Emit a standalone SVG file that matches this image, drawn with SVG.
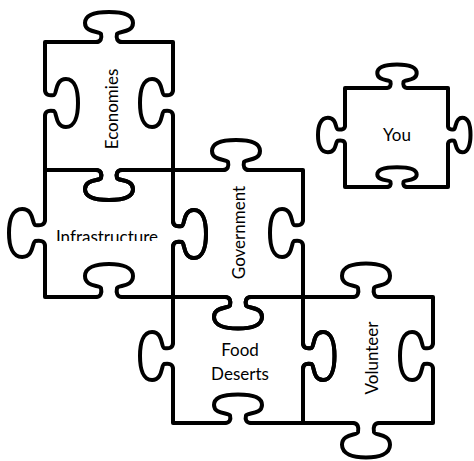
<svg xmlns="http://www.w3.org/2000/svg" xmlns:xlink="http://www.w3.org/1999/xlink" width="474" height="461" viewBox="0 0 474 461">
<style>
.edge{fill:none;stroke:#000;stroke-width:4;stroke-linecap:round;stroke-linejoin:round}
.tabp{fill:none;stroke:#000;stroke-width:4;stroke-linecap:round;stroke-linejoin:round;vector-effect:non-scaling-stroke}
.lbl{font-family:Lato,"Liberation Sans",sans-serif;font-size:17px;fill:#000;text-anchor:middle}
</style>
<defs>
<path id="tab" class="tabp" d="M-13,0 C-8,0 -7,-4 -8,-8 C-9,-11 -24,-9 -24,-19 C-24,-27 -13,-30 0,-30 C13,-30 24,-27 24,-19 C24,-9 9,-11 8,-8 C7,-4 8,0 13,0"/>
<clipPath id="clipInfra"><rect x="0" y="0" width="474" height="241"/></clipPath>
</defs>
<rect width="474" height="461" fill="#fff"/>
<g id="economies">
<path class="edge" d="M45,90 V42 H96 M122,42 H173 V90 M173,116 V170 H122 M96,170 H45 V116"/>
<use xlink:href="#tab" transform="translate(109,42)"/>
<use xlink:href="#tab" transform="translate(173,103) rotate(-90) scale(1,1.1)"/>
<use xlink:href="#tab" transform="translate(109,170) rotate(180)"/>
<use xlink:href="#tab" transform="translate(45,103) rotate(90) scale(1,1.1)"/>
<text class="lbl" transform="translate(118,109) rotate(-90)" x="0" y="0">Economies</text>
</g>
<g id="infrastructure">
<path class="edge" d="M45,220 V170 H96 M122,170 H173 V221 M173,247 V297 H122 M96,297 H45 V246"/>
<use xlink:href="#tab" transform="translate(109,170) rotate(180)"/>
<use xlink:href="#tab" transform="translate(173,234) rotate(90) scale(1,1.1)"/>
<use xlink:href="#tab" transform="translate(109,297) scale(1,1.1)"/>
<use xlink:href="#tab" transform="translate(45,233) rotate(-90) scale(1,1.2)"/>
<text class="lbl" x="107" y="243" clip-path="url(#clipInfra)">Infrastructure</text>
</g>
<g id="government">
<path class="edge" d="M173,221 V170 H223 M249,170 H303 V220 M303,246 V297 H251 M225,297 H173 V247"/>
<use xlink:href="#tab" transform="translate(236,170)"/>
<use xlink:href="#tab" transform="translate(303,233) rotate(-90) scale(1,1.1)"/>
<use xlink:href="#tab" transform="translate(238,297) rotate(180) scale(1,1.05)"/>
<use xlink:href="#tab" transform="translate(173,234) rotate(90) scale(1,1.1)"/>
<text class="lbl" transform="translate(245,232.5) rotate(-90)" x="0" y="0">Government</text>
</g>
<g id="food-deserts">
<path class="edge" d="M173,343 V297 H225 M251,297 H303 V343 M303,369 V423 H251 M225,423 H173 V369"/>
<use xlink:href="#tab" transform="translate(238,297) rotate(180) scale(1,1.05)"/>
<use xlink:href="#tab" transform="translate(303,356) rotate(90) scale(1,1.05)"/>
<use xlink:href="#tab" transform="translate(238,423) scale(1,0.95)"/>
<use xlink:href="#tab" transform="translate(173,356) rotate(-90) scale(1,1.1)"/>
<text class="lbl" x="240" y="356">Food</text>
<text class="lbl" x="240" y="380">Deserts</text>
</g>
<g id="volunteer">
<path class="edge" d="M303,343 V297 H353 M379,297 H433 V343 M433,369 V423 H379 M353,423 H303 V369"/>
<use xlink:href="#tab" transform="translate(366,297) scale(1,1.12)"/>
<use xlink:href="#tab" transform="translate(433,356) rotate(-90) scale(1,1.1)"/>
<use xlink:href="#tab" transform="translate(366,423) rotate(180) scale(1,1.15)"/>
<use xlink:href="#tab" transform="translate(303,356) rotate(90) scale(1,1.05)"/>
<text class="lbl" transform="translate(378,358) rotate(-90)" x="0" y="0">Volunteer</text>
</g>
<g id="you">
<path class="edge" d="M345,125.6 V88 H386.3 M407.7,88 H448 V125.6 M448,144.4 V187 H407.7 M386.3,187 H345 V144.4"/>
<use xlink:href="#tab" transform="translate(397,88) scale(0.82,0.78)"/>
<use xlink:href="#tab" transform="translate(448,135) rotate(90) scale(0.72,0.75)"/>
<use xlink:href="#tab" transform="translate(397,187) scale(0.82,0.66)"/>
<use xlink:href="#tab" transform="translate(345,135) rotate(-90) scale(0.72,0.9)"/>
<text class="lbl" x="397" y="141">You</text>
</g>
</svg>
